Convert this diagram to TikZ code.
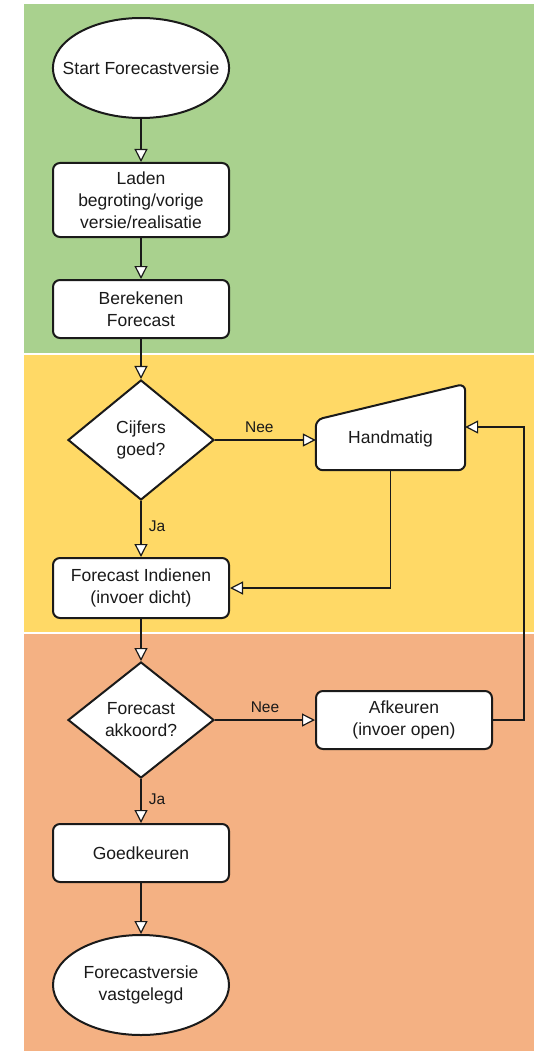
\documentclass[tikz,border=0pt]{standalone}
\usepackage{fontspec}
\setmainfont{Liberation Sans}
\usetikzlibrary{arrows.meta,shapes.geometric,calc}
\definecolor{bggreen}{HTML}{A9D18E}
\definecolor{bgyellow}{HTML}{FFD966}
\definecolor{bgorange}{HTML}{F4B183}
\definecolor{ink}{HTML}{1A1A1A}
\begin{document}
\begin{tikzpicture}[x=1pt,y=-1pt,
  every node/.style={font=\fontsize{17.5}{22}\selectfont, text=ink, align=center},
  shapebox/.style={draw=ink, line width=2pt, fill=white, rounded corners=7pt,
    minimum width=176pt, inner sep=2pt},
  term/.style={draw=ink, line width=2pt, fill=white, ellipse, minimum width=176pt,
    minimum height=100pt, inner xsep=-16pt, inner ysep=0pt},
  decide/.style={draw=ink, line width=2pt, fill=white, diamond, minimum width=146pt,
    minimum height=120pt, inner sep=0pt},
  flow/.style={draw=ink, line width=1.2pt,
    -{Triangle[length=13pt,width=13pt,fill=white,line width=1.2pt]}},
  lbl/.style={font=\fontsize{15.5}{18}\selectfont}
]
\useasboundingbox (0,0) rectangle (538,1051);
% bands
\fill[bggreen] (24,4) rectangle (534,353);
\fill[bgyellow] (24,355) rectangle (534,632);
\fill[bgorange] (24,634) rectangle (534,1051);

% nodes
\node[term] (start) at (141,68) {Start Forecastversie};
\node[shapebox, minimum height=74pt] (laden) at (141,200) {Laden\\begroting/vorige\\versie/realisatie};
\node[shapebox, minimum height=58pt] (bereken) at (141,309) {Berekenen\\Forecast};
\node[decide] (cij) at (141,440) {Cijfers\\goed?};
\node[minimum width=149pt, minimum height=86pt, inner sep=0pt,
  text height=36pt, text depth=4pt] (hand) at (390.5,427) {};
\draw[draw=ink, line width=2pt, fill=white, rounded corners=7pt]
  (hand.south west) -- ($(hand.north west)+(0,36)$) -- (hand.north east)
  -- (hand.south east) -- cycle;
\node[text height=36pt, text depth=4pt] at (hand.center) {Handmatig};
\node[shapebox, minimum height=60pt] (ind) at (141,588) {Forecast Indienen\\(invoer dicht)};
\node[decide, minimum height=116pt] (akk) at (141,720) {Forecast\\akkoord?};
\node[shapebox, minimum height=58pt] (afk) at (404,720) {Afkeuren\\(invoer open)};
\node[shapebox, minimum height=58pt] (goed) at (141,853) {Goedkeuren};
\node[term] (eind) at (141,985) {Forecastversie\\vastgelegd};

% connectors
\draw[flow] (start) -- (laden);
\draw[flow] (laden) -- (bereken);
\draw[flow] (bereken) -- (cij);
\draw[flow] (cij.east) -- (cij.east -| hand.west) node[lbl, pos=0.44, above=3pt] {Nee};
\draw[flow] (cij) -- (ind) node[lbl, pos=0.45, right=4pt] {Ja};
\draw[flow] (hand.south) |- (ind.east);
\draw[flow] (ind) -- (akk);
\draw[flow] (akk) -- (afk) node[lbl, midway, above=3pt] {Nee};
\draw[flow] (afk.east) -- ++(31,0) |- (hand.east);
\draw[flow] (akk) -- (goed) node[lbl, pos=0.45, right=4pt] {Ja};
\draw[flow] (goed) -- (eind);
\end{tikzpicture}
\end{document}
